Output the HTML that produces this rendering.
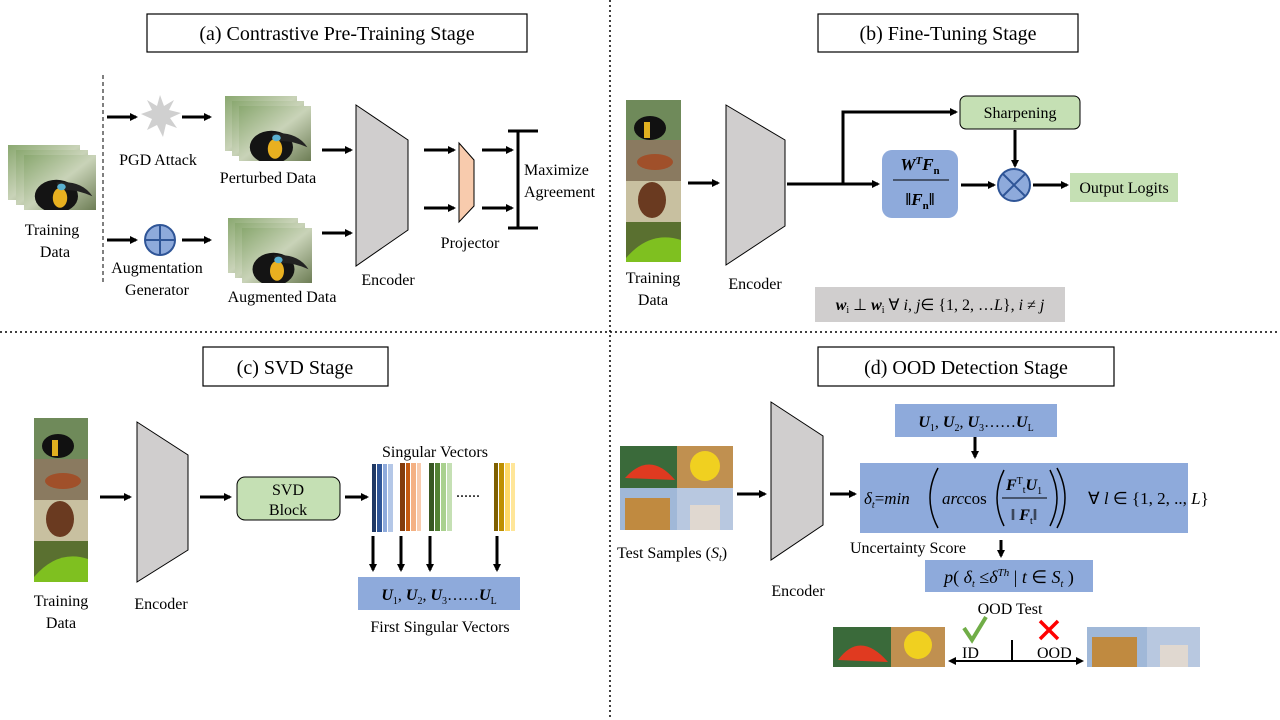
<!DOCTYPE html>
<html><head><meta charset="utf-8"><style>
html,body{margin:0;padding:0;background:#fff;}
svg{display:block;}
text{font-family:"Liberation Serif",serif;fill:#000;}
.t{font-size:16px;}
.h{font-size:20px;}
.m{font-style:italic;font-weight:bold;}
</style></head><body>
<svg width="1280" height="720" viewBox="0 0 1280 720" xmlns="http://www.w3.org/2000/svg">
<defs>
<marker id="a" markerWidth="8" markerHeight="8" refX="6" refY="4" orient="auto" markerUnits="userSpaceOnUse"><path d="M0,0 L8,4 L0,8 z" fill="#000"/></marker>
<linearGradient id="bird" x1="0" y1="0" x2="1" y2="1"><stop offset="0" stop-color="#8aa870"/><stop offset="0.5" stop-color="#c9d3b8"/><stop offset="1" stop-color="#6d7d55"/></linearGradient>
<g id="toucan"><rect width="1" height="1" fill="url(#bird)"/><ellipse cx="0.45" cy="0.75" rx="0.3" ry="0.3" fill="#141414"/><path d="M0.45,0.5 Q0.8,0.45 0.95,0.75 Q0.7,0.6 0.5,0.65z" fill="#222"/><ellipse cx="0.5" cy="0.78" rx="0.1" ry="0.18" fill="#e8b020"/><circle cx="0.52" cy="0.58" r="0.06" fill="#5ab0d0"/></g>
</defs>
<g stroke="#000" stroke-width="1.5" stroke-dasharray="2,3" fill="none">
<line x1="610" y1="0" x2="610" y2="720"/>
<line x1="0" y1="332" x2="1280" y2="332"/>
</g>
<line x1="103" y1="75" x2="103" y2="282" stroke="#000" stroke-dasharray="4,3"/>
<g fill="#fff" stroke="#000" stroke-width="1.2">
<rect x="147" y="14" width="380" height="38"/><rect x="818" y="14" width="260" height="38"/>
<rect x="203" y="347" width="185" height="39"/><rect x="818" y="347" width="296" height="39"/>
</g>
<text class="h" x="337" y="40" text-anchor="middle">(a)  Contrastive Pre-Training Stage</text>
<text class="h" x="948" y="40" text-anchor="middle">(b)  Fine-Tuning  Stage</text>
<text class="h" x="295" y="374" text-anchor="middle">(c)  SVD  Stage</text>
<text class="h" x="966" y="374" text-anchor="middle">(d)  OOD  Detection  Stage</text>

<g stroke="#000" stroke-width="3" marker-end="url(#a)">
<line x1="107" y1="117" x2="136" y2="117"/><line x1="182" y1="117" x2="210" y2="117"/>
<line x1="107" y1="240" x2="136" y2="240"/><line x1="182" y1="240" x2="210" y2="240"/>
<line x1="322" y1="150" x2="351" y2="150"/><line x1="322" y1="233" x2="351" y2="233"/>
<line x1="424" y1="150" x2="454" y2="150"/><line x1="424" y1="208" x2="454" y2="208"/>
<line x1="482" y1="150" x2="512" y2="150"/><line x1="482" y1="208" x2="512" y2="208"/>
<line x1="688" y1="183" x2="718" y2="183"/>
<line x1="787" y1="184" x2="878" y2="184"/>
<polyline points="843,184 843,112 956,112" fill="none"/>
<line x1="1015" y1="130" x2="1015" y2="166"/>
<line x1="961" y1="185" x2="994" y2="185"/>
<line x1="1033" y1="185" x2="1067" y2="185"/>
<line x1="100" y1="497" x2="130" y2="497"/><line x1="200" y1="497" x2="230" y2="497"/>
<line x1="345" y1="497" x2="367" y2="497"/>
<line x1="373" y1="536" x2="373" y2="570"/><line x1="401" y1="536" x2="401" y2="570"/>
<line x1="430" y1="536" x2="430" y2="570"/><line x1="497" y1="536" x2="497" y2="570"/>
<line x1="737" y1="494" x2="765" y2="494"/><line x1="830" y1="494" x2="855" y2="494"/>
<line x1="975" y1="437" x2="975" y2="457"/><line x1="1001" y1="540" x2="1001" y2="556"/>
</g>

<g><svg x="8" y="145" width="72" height="55" viewBox="0 0 1 1" preserveAspectRatio="none"><use href="#toucan"/></svg>
<svg x="16" y="150" width="72" height="55" viewBox="0 0 1 1" preserveAspectRatio="none"><use href="#toucan"/></svg>
<svg x="24" y="155" width="72" height="55" viewBox="0 0 1 1" preserveAspectRatio="none"><use href="#toucan"/></svg></g>
<text class="t" x="52" y="235" text-anchor="middle">Training</text><text class="t" x="55" y="257" text-anchor="middle">Data</text>
<polygon points="160,95 164,106 174,100 169,110 181,113 170,118 177,128 166,124 163,137 157,125 147,130 152,119 141,114 152,110 147,100 157,106" fill="#d0d0d0"/>
<text class="t" x="158" y="165" text-anchor="middle">PGD Attack</text>
<svg x="225" y="96" width="72" height="55" viewBox="0 0 1 1" preserveAspectRatio="none"><use href="#toucan"/></svg>
<svg x="232" y="101" width="72" height="55" viewBox="0 0 1 1" preserveAspectRatio="none"><use href="#toucan"/></svg>
<svg x="239" y="106" width="72" height="55" viewBox="0 0 1 1" preserveAspectRatio="none"><use href="#toucan"/></svg>
<text class="t" x="268" y="183" text-anchor="middle">Perturbed Data</text>
<circle cx="160" cy="240" r="15" fill="#8eaadb" stroke="#2f5597" stroke-width="2"/>
<line x1="145" y1="240" x2="175" y2="240" stroke="#2f5597" stroke-width="2"/><line x1="160" y1="225" x2="160" y2="255" stroke="#2f5597" stroke-width="2"/>
<text class="t" x="157" y="273" text-anchor="middle">Augmentation</text><text class="t" x="157" y="295" text-anchor="middle">Generator</text>
<svg x="228" y="218" width="70" height="55" viewBox="0 0 1 1" preserveAspectRatio="none"><use href="#toucan"/></svg>
<svg x="235" y="223" width="70" height="55" viewBox="0 0 1 1" preserveAspectRatio="none"><use href="#toucan"/></svg>
<svg x="242" y="228" width="70" height="55" viewBox="0 0 1 1" preserveAspectRatio="none"><use href="#toucan"/></svg>
<text class="t" x="282" y="302" text-anchor="middle">Augmented  Data</text>
<polygon points="356,105 408,140 408,230 356,266" fill="#d0cece" stroke="#000"/>
<text class="t" x="388" y="285" text-anchor="middle">Encoder</text>
<polygon points="459,143 474,160 474,206 459,222" fill="#f8cbad" stroke="#000"/>
<text class="t" x="470" y="248" text-anchor="middle">Projector</text>
<g stroke="#000" stroke-width="3"><line x1="518" y1="131" x2="518" y2="228"/><line x1="508" y1="131" x2="538" y2="131"/><line x1="508" y1="228" x2="538" y2="228"/></g>
<text class="t" x="524" y="175">Maximize</text><text class="t" x="524" y="197">Agreement</text>

<rect x="626" y="100" width="55" height="40" fill="#6f8a5a"/><ellipse cx="650" cy="128" rx="16" ry="12" fill="#111"/><rect x="644" y="122" width="6" height="16" fill="#e0b020"/>
<rect x="626" y="140" width="55" height="41" fill="#8a7a60"/><ellipse cx="655" cy="162" rx="18" ry="8" fill="#a0502a"/>
<rect x="626" y="181" width="55" height="41" fill="#c8c0a0"/><ellipse cx="652" cy="200" rx="14" ry="18" fill="#6a3a20"/>
<rect x="626" y="222" width="55" height="40" fill="#5a7030"/><path d="M626,258 Q650,230 681,240 L681,262 L626,262z" fill="#7fc020"/>
<text class="t" x="653" y="283" text-anchor="middle">Training</text><text class="t" x="653" y="305" text-anchor="middle">Data</text>
<polygon points="726,105 785,140 785,226 726,265" fill="#d0cece" stroke="#000"/>
<text class="t" x="755" y="289" text-anchor="middle">Encoder</text>
<rect x="960" y="96" width="120" height="33" rx="6" fill="#c5e0b4" stroke="#000"/>
<text class="t" x="1020" y="118" text-anchor="middle">Sharpening</text>
<rect x="882" y="150" width="76" height="68" rx="10" fill="#8eaadb"/>
<text x="920" y="170" text-anchor="middle" style="font-size:17px" class="m">W<tspan dy="-6" font-size="11">T</tspan><tspan dy="6">F</tspan><tspan dy="4" font-size="11" font-style="normal">n</tspan></text>
<line x1="893" y1="180" x2="949" y2="180" stroke="#000"/>
<text x="920" y="205" text-anchor="middle" style="font-size:17px" class="m">‖F<tspan dy="4" font-size="11" font-style="normal">n</tspan><tspan dy="-4">‖</tspan></text>
<circle cx="1014" cy="185" r="16" fill="#8eaadb" stroke="#2f5597" stroke-width="2"/>
<line x1="1003" y1="174" x2="1025" y2="196" stroke="#2f5597" stroke-width="2"/><line x1="1025" y1="174" x2="1003" y2="196" stroke="#2f5597" stroke-width="2"/>
<rect x="1070" y="173" width="108" height="29" fill="#c5e0b4"/>
<text class="t" x="1124" y="193" text-anchor="middle">Output Logits</text>
<rect x="815" y="287" width="250" height="35" fill="#d0cece"/>
<text x="940" y="310" text-anchor="middle" style="font-size:16px"><tspan class="m">w</tspan><tspan font-size="10" dy="3">i</tspan><tspan dy="-3"> ⊥ </tspan><tspan class="m">w</tspan><tspan font-size="10" dy="3">i</tspan><tspan dy="-3"> ∀ </tspan><tspan font-style="italic">i</tspan>, <tspan font-style="italic">j</tspan>∈ {1, 2, …<tspan font-style="italic">L</tspan>}, <tspan font-style="italic">i</tspan> ≠ <tspan font-style="italic">j</tspan></text>

<rect x="34" y="418" width="54" height="41" fill="#6f8a5a"/><ellipse cx="58" cy="446" rx="16" ry="12" fill="#111"/><rect x="52" y="440" width="6" height="16" fill="#e0b020"/>
<rect x="34" y="459" width="54" height="41" fill="#8a7a60"/><ellipse cx="63" cy="481" rx="18" ry="8" fill="#a0502a"/>
<rect x="34" y="500" width="54" height="41" fill="#c8c0a0"/><ellipse cx="60" cy="519" rx="14" ry="18" fill="#6a3a20"/>
<rect x="34" y="541" width="54" height="41" fill="#5a7030"/><path d="M34,577 Q58,549 88,559 L88,582 L34,582z" fill="#7fc020"/>
<text class="t" x="61" y="606" text-anchor="middle">Training</text><text class="t" x="61" y="628" text-anchor="middle">Data</text>
<polygon points="137,422 188,455 188,550 137,582" fill="#d0cece" stroke="#000"/>
<text class="t" x="161" y="609" text-anchor="middle">Encoder</text>
<rect x="237" y="477" width="103" height="43" rx="8" fill="#c5e0b4" stroke="#000"/>
<text class="t" x="288" y="495" text-anchor="middle">SVD</text><text class="t" x="288" y="515" text-anchor="middle">Block</text>
<text class="t" x="435" y="457" text-anchor="middle">Singular  Vectors</text>
<g>
<rect x="372" y="464" width="4" height="68" fill="#1f3864"/><rect x="377" y="464" width="5" height="68" fill="#2f5597"/><rect x="383" y="464" width="4" height="68" fill="#8eaadb"/><rect x="388" y="464" width="5" height="68" fill="#b4c7e7"/>
<rect x="400" y="463" width="5" height="68" fill="#843c0c"/><rect x="406" y="463" width="4" height="68" fill="#c55a11"/><rect x="411" y="463" width="5" height="68" fill="#f4b183"/><rect x="417" y="463" width="4" height="68" fill="#f8cbad"/>
<rect x="429" y="463" width="5" height="68" fill="#385723"/><rect x="435" y="463" width="5" height="68" fill="#548235"/><rect x="441" y="463" width="5" height="68" fill="#a9d18e"/><rect x="447" y="463" width="5" height="68" fill="#c5e0b4"/>
<rect x="494" y="463" width="4" height="68" fill="#7f6000"/><rect x="499" y="463" width="5" height="68" fill="#bf9000"/><rect x="505" y="463" width="5" height="68" fill="#ffd966"/><rect x="511" y="463" width="4" height="68" fill="#ffe699"/>
</g>
<text class="t" x="456" y="497">......</text>
<rect x="358" y="577" width="162" height="33" fill="#8eaadb"/>
<text x="439" y="600" text-anchor="middle" style="font-size:16px"><tspan class="m">U</tspan><tspan font-size="10" dy="4">1</tspan><tspan dy="-4">, </tspan><tspan class="m">U</tspan><tspan font-size="10" dy="4">2</tspan><tspan dy="-4">, </tspan><tspan class="m">U</tspan><tspan font-size="10" dy="4">3</tspan><tspan dy="-4">……</tspan><tspan class="m">U</tspan><tspan font-size="10" dy="4">L</tspan></text>
<text class="t" x="440" y="632" text-anchor="middle">First Singular  Vectors</text>

<rect x="620" y="446" width="57" height="42" fill="#3a6a3a"/><path d="M625,478 Q650,450 675,480z" fill="#e03a20"/>
<rect x="677" y="446" width="56" height="42" fill="#c09050"/><circle cx="705" cy="466" r="15" fill="#f0d020"/>
<rect x="620" y="488" width="57" height="42" fill="#a0b8d8"/><rect x="625" y="498" width="45" height="32" fill="#c08a40"/>
<rect x="677" y="488" width="56" height="42" fill="#b8c8e0"/><rect x="690" y="505" width="30" height="25" fill="#e0d8d0"/>
<text class="t" x="617" y="558">Test Samples (<tspan font-style="italic">S</tspan><tspan font-size="10" dy="3" font-style="italic">t</tspan><tspan dy="-3">)</tspan></text>
<polygon points="771,402 823,436 823,525 771,560" fill="#d0cece" stroke="#000"/>
<text class="t" x="798" y="596" text-anchor="middle">Encoder</text>
<rect x="895" y="404" width="162" height="33" fill="#8eaadb"/>
<text x="976" y="427" text-anchor="middle" style="font-size:16px"><tspan class="m">U</tspan><tspan font-size="10" dy="4">1</tspan><tspan dy="-4">, </tspan><tspan class="m">U</tspan><tspan font-size="10" dy="4">2</tspan><tspan dy="-4">, </tspan><tspan class="m">U</tspan><tspan font-size="10" dy="4">3</tspan><tspan dy="-4">……</tspan><tspan class="m">U</tspan><tspan font-size="10" dy="4">L</tspan></text>
<rect x="860" y="463" width="328" height="70" fill="#8eaadb"/>
<text x="864" y="504" style="font-size:17px"><tspan font-style="italic">δ</tspan><tspan font-size="10" dy="4" font-style="italic">t</tspan><tspan dy="-4">=</tspan><tspan font-style="italic">min</tspan></text>
<path d="M938,468 Q922,498 938,528" fill="none" stroke="#000" stroke-width="1.5"/>
<text x="942" y="504" style="font-size:17px;font-style:italic">arc<tspan font-style="normal">cos</tspan></text>
<path d="M1004,470 Q990,498 1004,526" fill="none" stroke="#000" stroke-width="1.5"/>
<text x="1024" y="490" text-anchor="middle" style="font-size:16px"><tspan class="m">F</tspan><tspan font-size="10" dy="-6">T</tspan><tspan font-size="10" dy="9">t</tspan><tspan dy="-3" class="m">U</tspan><tspan font-size="10" dy="4">1</tspan></text>
<line x1="1002" y1="498" x2="1047" y2="498" stroke="#000"/>
<text x="1024" y="520" text-anchor="middle" style="font-size:16px">‖ <tspan class="m">F</tspan><tspan font-size="10" dy="4">t</tspan><tspan dy="-4">‖</tspan></text>
<path d="M1050,470 Q1064,498 1050,526" fill="none" stroke="#000" stroke-width="1.5"/>
<path d="M1057,468 Q1073,498 1057,528" fill="none" stroke="#000" stroke-width="1.5"/>
<text x="1088" y="504" style="font-size:17px">∀ <tspan font-style="italic">l</tspan> ∈ {1, 2, .., <tspan font-style="italic">L</tspan>}</text>
<text class="t" x="850" y="553">Uncertainty  Score</text>
<rect x="925" y="560" width="168" height="32" fill="#8eaadb"/>
<text x="1009" y="583" text-anchor="middle" style="font-size:18px"><tspan font-style="italic">p</tspan>(  <tspan font-style="italic">δ</tspan><tspan font-size="10" dy="4" font-style="italic">t</tspan><tspan dy="-4"> ≤</tspan><tspan font-style="italic">δ</tspan><tspan font-size="11" dy="-7" font-style="italic">Th</tspan><tspan dy="7"> | </tspan><tspan font-style="italic">t</tspan> ∈ <tspan font-style="italic">S</tspan><tspan font-size="10" dy="4" font-style="italic">t</tspan><tspan dy="-4">  )</tspan></text>
<text class="t" x="1010" y="614" text-anchor="middle">OOD Test</text>
<path d="M964,628 L972,640 L986,617" stroke="#70ad47" stroke-width="4" fill="none"/>
<path d="M1040,621 L1058,639 M1058,621 L1040,639" stroke="#ff0000" stroke-width="3.5"/>
<rect x="833" y="627" width="58" height="40" fill="#3a6a3a"/><path d="M838,660 Q860,630 888,662z" fill="#e03a20"/>
<rect x="891" y="627" width="54" height="40" fill="#c09050"/><circle cx="918" cy="645" r="14" fill="#f0d020"/>
<rect x="1087" y="627" width="60" height="40" fill="#a0b8d8"/><rect x="1092" y="637" width="45" height="30" fill="#c08a40"/>
<rect x="1147" y="627" width="53" height="40" fill="#b8c8e0"/><rect x="1160" y="645" width="28" height="22" fill="#e0d8d0"/>
<g stroke="#000" stroke-width="2"><line x1="950" y1="661" x2="1082" y2="661" marker-end="url(#a)"/><line x1="1082" y1="661" x2="950" y2="661" marker-end="url(#a)"/><line x1="1012" y1="640" x2="1012" y2="662"/></g>
<text class="t" x="962" y="658">ID</text><text class="t" x="1037" y="658">OOD</text>
</svg>
</body></html>
